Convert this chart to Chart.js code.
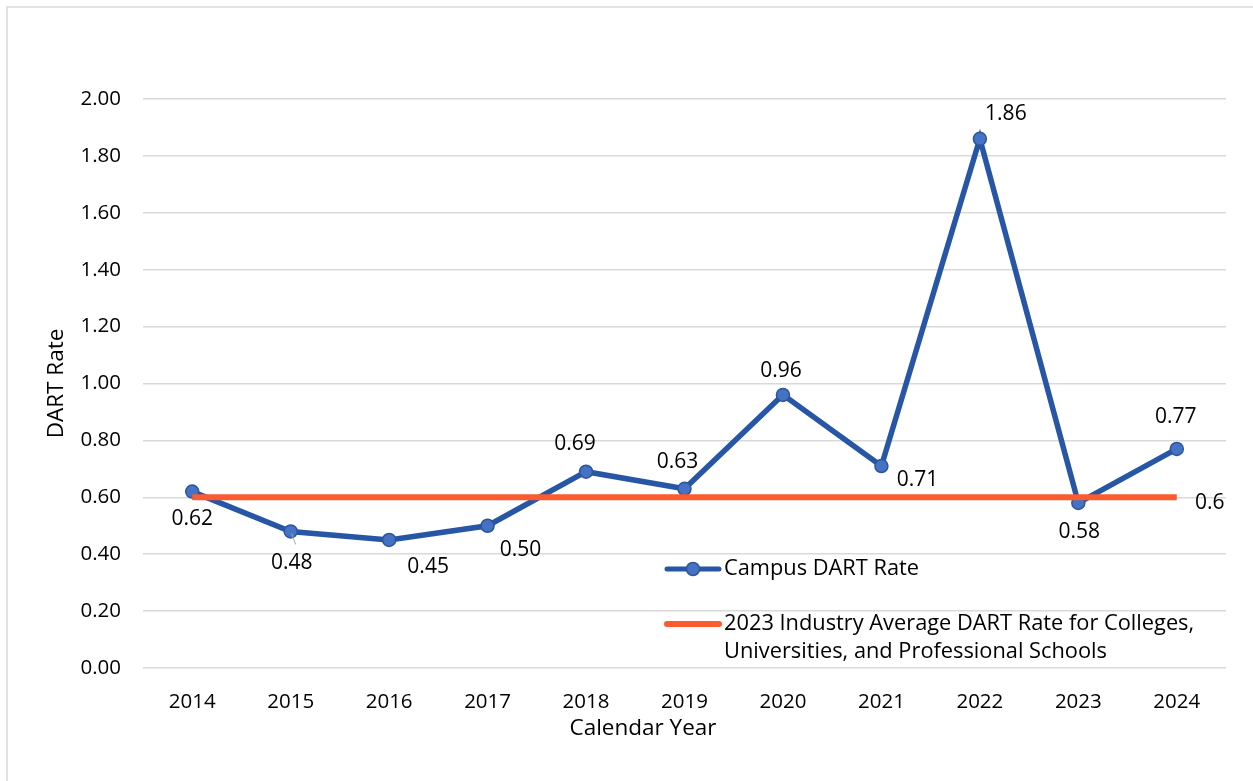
<!DOCTYPE html>
<html>
<head>
<meta charset="utf-8">
<script src="https://cdn.jsdelivr.net/npm/chart.js@4"></script>
<style>
  html, body { margin: 0; padding: 0; background: #fff; }
  canvas { display: block; }
</style>
</head>
<body>
<canvas id="graph" width="1253" height="781"></canvas>
<script>
const years = ['2014', '2015', '2016', '2017', '2018', '2019', '2020', '2021', '2022', '2023', '2024'];
const campusRate = [0.62, 0.48, 0.45, 0.50, 0.69, 0.63, 0.96, 0.71, 1.86, 0.58, 0.77];
const industryAvg = [0.6, 0.6, 0.6, 0.6, 0.6, 0.6, 0.6, 0.6, 0.6, 0.6, 0.6];
const yTicks = [0, 0.2, 0.4, 0.6, 0.8, 1.0, 1.2, 1.4, 1.6, 1.8, 2.0];

const campusName = 'Campus DART Rate';
const industryName = ['2023 Industry Average DART Rate for Colleges,', 'Universities, and Professional Schools'];
const xTitle = 'Calendar Year';

// where each value label sits relative to its point (Excel placed these by hand)
const campusLabelShift = [[0, 27], [1, 32], [39, 27], [33, 24], [-11, -28], [-7, -27],
  [-2, -24], [36, 14], [26, -25], [1, 29], [-1, -32]];

const FONT = '"Open Sans", sans-serif';
const BLUE = '#2756A6';
const ORANGE = '#FC5A2F';

const frame = {
  id: 'frame',
  beforeDraw(chart) {
    const c = chart.ctx;
    c.save();
    c.strokeStyle = '#D9D9D9';
    c.lineWidth = 1.5;
    c.beginPath();
    c.moveTo(7, 781);
    c.lineTo(7, 7);
    c.lineTo(1253, 7);
    c.stroke();
    // x axis title sits a bit left of the plot centre in the original
    c.font = '22.5px ' + FONT;
    c.fillStyle = '#000';
    c.textAlign = 'center';
    c.textBaseline = 'middle';
    c.fillText(xTitle, 643, 729);
    c.restore();
  }
};

const valueLabels = {
  id: 'valueLabels',
  afterDatasetsDraw(chart) {
    const c = chart.ctx;
    c.save();
    c.font = '21px ' + FONT;
    c.fillStyle = '#000';
    c.textAlign = 'center';
    c.textBaseline = 'middle';
    const pts = chart.getDatasetMeta(0).data;
    pts.forEach((p, i) => {
      const s = campusLabelShift[i];
      if (i === 1) {
        c.strokeStyle = '#A6A6A6';
        c.lineWidth = 1;
        c.beginPath();
        c.moveTo(p.x + 1, p.y + 2);
        c.lineTo(p.x + 5, p.y + 13);
        c.stroke();
      }
      c.fillText(campusRate[i].toFixed(2), p.x + s[0], p.y + s[1]);
    });
    const last = chart.getDatasetMeta(1).data[industryAvg.length - 1];
    c.fillText(String(industryAvg[industryAvg.length - 1]), last.x + 33, last.y + 6);
    c.restore();
  }
};

const insideLegend = {
  id: 'insideLegend',
  afterDraw(chart) {
    const c = chart.ctx;
    c.save();
    c.lineCap = 'round';
    c.strokeStyle = BLUE;
    c.lineWidth = 5;
    c.beginPath();
    c.moveTo(667, 569);
    c.lineTo(719, 569);
    c.stroke();
    c.beginPath();
    c.arc(693, 569, 6.5, 0, Math.PI * 2);
    c.fillStyle = '#4472C4';
    c.fill();
    c.lineWidth = 1.5;
    c.strokeStyle = '#2F5597';
    c.stroke();
    c.strokeStyle = ORANGE;
    c.lineWidth = 6;
    c.beginPath();
    c.moveTo(667, 624);
    c.lineTo(719, 624);
    c.stroke();
    c.font = '21.8px ' + FONT;
    c.fillStyle = '#000';
    c.textAlign = 'left';
    c.textBaseline = 'middle';
    c.fillText(campusName, 724, 569);
    c.fillText(industryName[0], 724, 624);
    c.fillText(industryName[1], 724, 652);
    c.restore();
  }
};

new Chart(document.getElementById('graph').getContext('2d'), {
  type: 'line',
  data: {
    labels: years,
    datasets: [{
      label: campusName,
      data: campusRate,
      borderColor: BLUE,
      borderWidth: 5.5,
      pointRadius: 6.5,
      pointBackgroundColor: '#4472C4',
      pointBorderColor: '#2F5597',
      pointBorderWidth: 1.5,
      tension: 0,
      order: 2
    }, {
      label: industryName.join(' '),
      data: industryAvg,
      borderColor: ORANGE,
      borderWidth: 6,
      pointRadius: 0,
      tension: 0,
      order: 1
    }]
  },
  options: {
    responsive: false,
    animation: false,
    layout: { padding: { top: 99, right: 27, left: 0, bottom: 0 } },
    plugins: {
      legend: { display: false },
      tooltip: { enabled: false }
    },
    scales: {
      x: {
        offset: true,
        grid: { display: false },
        border: { display: false },
        ticks: { color: '#000', font: { family: FONT, size: 20.5 }, padding: 14 },
        afterFit(scale) { scale.height = 113; }
      },
      y: {
        min: 0,
        max: 2,
        afterBuildTicks(scale) { scale.ticks = yTicks.map(v => ({ value: v })); },
        grid: { color: '#D9D9D9', lineWidth: 1.5, drawTicks: false },
        border: { display: false },
        ticks: {
          color: '#000',
          font: { family: FONT, size: 20.5 },
          padding: 22,
          callback: v => Number(v).toFixed(2)
        },
        title: {
          display: true,
          text: 'DART Rate',
          color: '#000',
          font: { family: FONT, size: 22.5 },
          padding: { top: 43, bottom: 0 }
        },
        afterFit(scale) { scale.width = 143; }
      }
    }
  },
  plugins: [frame, valueLabels, insideLegend]
});
</script>
</body>
</html>
